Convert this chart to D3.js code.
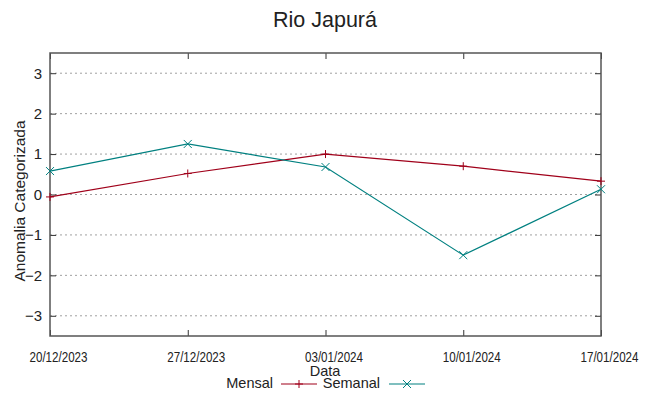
<!DOCTYPE html>
<html>
<head>
  <title>Rio Japurá</title>
  <script src="https://d3js.org/d3.v7.min.js"></script>
  <style>
    body { margin: 0; background: #fff; }
    text { font-family: "Liberation Sans", Arial, sans-serif; fill: #222; }
  </style>
</head>
<body>
  <svg width="649" height="396"></svg>
</body>
<script>

const dates = ['20/12/2023', '27/12/2023', '03/01/2024', '10/01/2024', '17/01/2024'];
const mensal = [-0.06, 0.52, 1.0, 0.70, 0.33];
const semanal = [0.58, 1.25, 0.68, -1.50, 0.13];
const yTicks = [-3, -2, -1, 0, 1, 2, 3];

const parse = d3.timeParse('%d/%m/%Y');
const fmt = d3.timeFormat('%d/%m/%Y');

const padL = 50, padR = 601, padT = 53, padB = 336;
let svg = d3.select('svg');

let x = d3.scaleTime()
  .domain([parse(dates[0]), parse(dates[dates.length - 1])])
  .range([padL, padR]);
let y = d3.scaleLinear().domain([-3.5, 3.5]).range([padB, padT]);

// grid
svg.append('g').selectAll('line').data(yTicks).enter().append('line')
  .attr('x1', padL).attr('x2', padR)
  .attr('y1', d => y(d)).attr('y2', d => y(d))
  .style('stroke', '#a0a0a0').style('stroke-width', 1)
  .style('stroke-dasharray', '2,3');

// axes with mirror ticks
let axL = svg.append('g').attr('transform', 'translate(' + padL + ',0)')
  .call(d3.axisLeft(y).tickValues(yTicks).tickSize(-6).tickPadding(8).tickFormat(d3.format('d')));
let axR = svg.append('g').attr('transform', 'translate(' + padR + ',0)')
  .call(d3.axisRight(y).tickValues(yTicks).tickSize(-6).tickFormat(''));
let tv = dates.map(parse);
let axB = svg.append('g').attr('transform', 'translate(0,' + padB + ')')
  .call(d3.axisBottom(x).tickValues(tv).tickSize(-6).tickFormat(fmt));
let axT = svg.append('g').attr('transform', 'translate(0,' + padT + ')')
  .call(d3.axisTop(x).tickValues(tv).tickSize(-6).tickFormat(''));

[axL, axR, axB, axT].forEach(a => {
  a.select('.domain').remove();
  a.selectAll('line').style('stroke', '#333');
});
axL.selectAll('text').style('font-size', '15px').style('fill', '#222');
axB.selectAll('text').style('font-size', '14px').style('fill', '#222')
  .attr('y', 26).attr('dy', 0).attr('dx', 8)
  .attr('textLength', 58).attr('lengthAdjust', 'spacingAndGlyphs');

svg.append('rect')
  .attr('x', padL).attr('y', padT)
  .attr('width', padR - padL).attr('height', padB - padT)
  .style('fill', 'none').style('stroke', '#555').style('stroke-width', 1.5);

// series
let series = [
  { name: 'Mensal', values: mensal, color: '#a0001a', mark: 'plus' },
  { name: 'Semanal', values: semanal, color: '#008080', mark: 'cross' }
];

let line = d3.line().x(d => x(d.date)).y(d => y(d.v));

let marker = (g, kind, cx, cy, color) => {
  let s = 4;
  let p = kind === 'plus'
    ? 'M' + (cx - s) + ',' + cy + 'H' + (cx + s) + 'M' + cx + ',' + (cy - s) + 'V' + (cy + s)
    : 'M' + (cx - s) + ',' + (cy - s) + 'L' + (cx + s) + ',' + (cy + s) + 'M' + (cx - s) + ',' + (cy + s) + 'L' + (cx + s) + ',' + (cy - s);
  g.append('path').attr('d', p).style('stroke', color).style('stroke-width', 1).style('fill', 'none');
};

series.forEach(s => {
  let pts = s.values.map((v, i) => ({ date: parse(dates[i]), v: v }));
  let g = svg.append('g');
  g.append('path').attr('d', line(pts))
    .style('fill', 'none').style('stroke', s.color).style('stroke-width', 1.2);
  pts.forEach(p => marker(g, s.mark, x(p.date), y(p.v), s.color));
});

// titles
svg.append('text').attr('x', 325).attr('y', 27).attr('text-anchor', 'middle')
  .style('font-size', '21.5px').text('Rio Japurá');
svg.append('text').attr('x', 325).attr('y', 376).attr('text-anchor', 'middle')
  .style('font-size', '14.5px').text('Data');
svg.append('text').attr('transform', 'translate(25,201) rotate(-90)')
  .attr('text-anchor', 'middle').style('font-size', '15.5px').text('Anomalia Categorizada');

// legend
let legend = [
  { name: 'Mensal', color: '#a0001a', mark: 'plus', tx: 273, lx: 281 },
  { name: 'Semanal', color: '#008080', mark: 'cross', tx: 380, lx: 389 }
];
legend.forEach(l => {
  svg.append('text').attr('x', l.tx).attr('y', 388).attr('text-anchor', 'end')
    .style('font-size', '14.5px').text(l.name);
  svg.append('line').attr('x1', l.lx).attr('x2', l.lx + 36).attr('y1', 384).attr('y2', 384)
    .style('stroke', l.color).style('stroke-width', 1.2);
  marker(svg, l.mark, l.lx + 18, 384, l.color);
});

</script>
</html>
